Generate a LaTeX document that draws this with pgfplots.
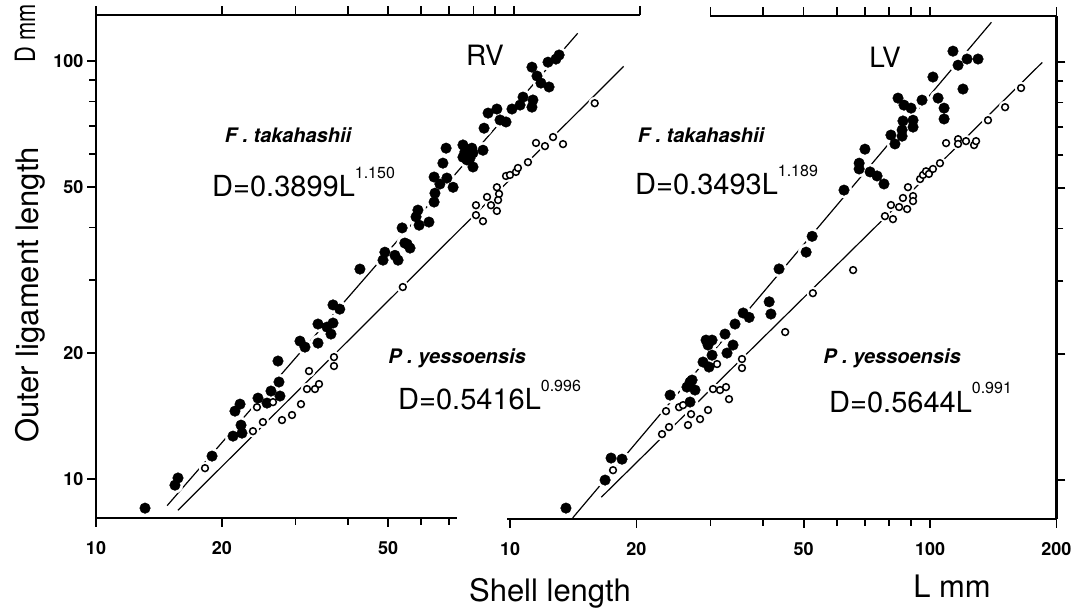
\documentclass[border=0pt]{standalone}
\usepackage{fontspec}
\setmainfont{TeX Gyre Heros}
\usepackage{pgfplots}
\usepackage{pgfplotstable}
\pgfplotsset{compat=1.18}

% RV, F. takahashii (filled)
\pgfplotstableread{
L D
13.1 8.52
15.45 9.67
15.71 10.06
18.95 11.35
21.27 12.67
22.35 12.88
22.23 13.46
21.50 14.54
22.11 15.11
24.41 15.62
25.65 15.20
26.22 16.24
27.55 15.80
27.40 17.07
27.25 19.16
30.76 21.38
31.62 20.69
33.97 23.49
33.97 21.15
35.70 23.10
36.49 22.23
36.90 23.62
36.9 26.1
38.3 25.5
42.8 31.8
48.6 33.4
49.1 34.9
51.9 34.3
52.8 33.4
54.0 39.9
54.8 36.7
56.4 35.7
55.5 36.5
58.9 44.0
58.3 42.4
59.3 40.5
62.6 41.2
64.4 46.0
64.7 48.3
64.4 52.8
66.5 50.8
69.1 52.5
71.5 49.9
67.6 57.0
68.8 61.9
75.5 63.0
76.3 60.6
77.6 59.6
75.5 58.9
77.2 58.0
78.5 58.6
79.3 61.9
79.8 60.3
79.8 55.8
84.3 61.2
84.8 69.1
86.7 75.1
91.0 76.8
92.6 72.3
95.7 71.5
98.9 76.8
103.4 78.5
105.1 82.0
110.4 77.6
111.0 80.7
110.4 96.7
113.5 92.1
116.0 88.6
121.3 86.7
120.6 99.4
126.0 101.1
128.2 103.4
}\rvF

% RV, P. yessoensis (open)
\pgfplotstableread{
L D
18.23 10.62
24.27 14.86
23.74 13.02
25.08 13.69
26.51 15.28
27.86 13.84
29.44 14.23
30.93 15.11
31.97 16.42
32.33 18.13
33.41 16.42
34.16 16.88
37.10 19.58
37.10 18.64
54.2 28.8
81.1 45.2
81.1 42.8
84.3 41.4
86.2 47.3
88.1 45.2
91.0 43.8
91.0 49.9
92.1 48.1
91.6 46.5
95.7 53.1
97.8 53.4
101.1 54.3
102.2 55.5
108.0 57.3
112.9 63.7
118.6 62.6
124.0 65.8
131.0 63.3
156 79.3
}\rvP

% LV, F. takahashii (filled)
\pgfplotstableread{
L D
13.59 8.57
16.84 10.0
17.40 11.29
18.48 11.22
24.05 15.97
26.38 16.69
26.83 17.16
27.13 17.35
27.57 16.42
26.83 15.37
28.81 19.16
29.77 18.64
30.27 19.9
29.29 21.62
30.27 21.62
29.61 21.04
32.5 22.35
32.86 20.13
33.96 21.04
34.33 23.62
35.9 25.1
37.1 24.5
41.4 26.7
41.8 24.96
43.7 32.0
50.7 35.1
52.4 38.3
62.4 49.4
67.8 57.3
67.8 55.5
70.0 61.9
72.0 54.6
74.8 53.4
77.7 51.1
80.7 66.9
82.5 63.7
85.8 68.8
86.2 72.3
85.8 66.5
83.9 82.0
86.7 78.9
90.1 77.6
91.1 72.6
91.1 69.9
95.7 81.1
101.6 92.1
104.5 82.0
108.0 77.6
108.0 73.1
113.4 106.2
116.6 98.3
119.8 86.2
122.5 101.7
130.1 101.7
}\lvF

% LV, P. yessoensis (open)
\pgfplotstableread{
L D
17.59 10.56
23.01 12.88
23.91 13.39
23.52 14.62
25.26 14.94
25.82 15.11
26.53 13.54
26.98 14.38
28.34 13.99
29.61 14.71
30.43 16.51
31.62 16.42
32.68 16.69
33.22 15.62
31.11 18.95
35.67 19.48
35.67 18.54
45.2 22.6
52.6 28.0
65.6 31.8
78.1 42.8
81.6 42.1
80.7 45.5
84.4 45.0
86.2 47.3
88.2 44.5
88.6 50.2
91.1 47.8
91.1 46.5
94.7 52.5
96.2 53.7
97.8 54.8
99.4 54.0
101.6 55.5
105.6 57.3
109.2 64.0
116.6 65.4
116.6 63.7
121.8 64.7
127.3 63.3
128.7 64.7
137.4 72.6
150.9 78.0
164.7 86.7
}\lvP

\begin{document}
\begin{tikzpicture}
\path[use as bounding box] (0pt,0pt) rectangle (1078pt,608pt);

% left panel: left and bottom axis lines
\begin{loglogaxis}[scale only axis, at={(96pt,90pt)}, anchor=south west,
  width=361pt, height=503pt, xmin=10, xmax=73.06, ymin=8.07, ymax=128.9,
  axis x line*=bottom, axis y line*=left,
  tick align=outside, axis line style={line width=2.2pt},
  tick style={line width=1.8pt, black},
  major tick length=9pt, minor tick length=7pt,
  tick label style={font=\fontsize{18}{18}\selectfont\bfseries},
  xticklabel style={yshift=-11pt},
  xtick={10,20,50}, xticklabels={10,20,50}, minor xtick={30,40,60,70},
  ytick={10,20,50,100}, yticklabels={10,20,50,100},
  minor ytick={30,40,60,70,80,90},
]
\addplot[draw=none] coordinates {(10,10)};
\end{loglogaxis}

% left panel: top axis and data (RV)
\begin{loglogaxis}[scale only axis, at={(96pt,90pt)}, anchor=south west,
  width=543.8pt, height=503pt, xmin=10, xmax=200, ymin=8.07, ymax=128.9,
  axis x line*=top, axis y line=none, clip=false,
  tick align=outside, axis line style={line width=2.2pt},
  tick style={line width=1.8pt, black},
  major tick length=9pt, minor tick length=7pt,
  xtick={10,20,30,40,50,60,70,80,90,100,200}, xticklabels={},
  ytick=\empty,
]
\addplot[black, line width=1.2pt, no marks] coordinates {(14.8,8.64) (142,116.5)};
\addplot[black, line width=1.2pt, no marks] coordinates {(15.7,8.42) (183,97.1)};
\addplot[only marks, mark=*, mark size=8pt, white] table {\rvF};
\addplot[only marks, mark=*, mark size=6pt, white] table {\rvP};
\addplot[only marks, mark=*, mark size=5.3pt, black] table {\rvF};
\addplot[only marks, mark=*, mark size=3.4pt, black, mark options={fill=white, line width=1.5pt}] table {\rvP};
\end{loglogaxis}

% right panel: bottom and right axis lines, data (LV)
\begin{loglogaxis}[scale only axis, at={(507.25pt,89pt)}, anchor=south west,
  width=549.2pt, height=503pt, xmin=9.85, xmax=200, ymin=8.07, ymax=128.9,
  axis x line*=bottom, axis y line*=right, clip=false,
  tick align=outside, axis line style={line width=2.2pt},
  tick style={line width=1.8pt, black},
  major tick length=9pt, minor tick length=7pt,
  tick label style={font=\fontsize{18}{18}\selectfont\bfseries},
  xticklabel style={yshift=-11pt},
  xtick={10,20,50,100,200}, xticklabels={10,20,50,100,200},
  minor xtick={30,40,60,70,80,90},
  ytick={10,20,50,100}, yticklabels={},
  minor ytick={30,40,60,70,80,90},
]
\addplot[black, line width=1.2pt, no marks] coordinates {(14.1,8.12) (140,124.5)};
\addplot[black, line width=1.2pt, no marks] coordinates {(16.5,9.1) (185,99.8)};
\addplot[only marks, mark=*, mark size=8pt, white] table {\lvF};
\addplot[only marks, mark=*, mark size=6pt, white] table {\lvP};
\addplot[only marks, mark=*, mark size=5.3pt, black] table {\lvF};
\addplot[only marks, mark=*, mark size=3.4pt, black, mark options={fill=white, line width=1.5pt}] table {\lvP};
\end{loglogaxis}

% right panel: top axis
\begin{loglogaxis}[scale only axis, at={(710.4pt,89pt)}, anchor=south west,
  width=346pt, height=503pt, xmin=30, xmax=200, ymin=8.07, ymax=128.9,
  axis x line*=top, axis y line=none,
  tick align=outside, axis line style={line width=2.2pt},
  tick style={line width=1.8pt, black},
  major tick length=9pt, minor tick length=7pt,
  xtick={30,40,50,60,70,80,90,100,200}, xticklabels={},
  ytick=\empty,
]
\addplot[draw=none] coordinates {(100,10)};
\end{loglogaxis}

% titles
\node[rotate=90, font=\fontsize{31}{31}\selectfont] at (30pt,313pt) {Outer ligament length};
\node[rotate=90, font=\fontsize{28}{28}\selectfont] at (25pt,575pt) {\scalebox{0.78}[1]{D mm}};
\node[font=\fontsize{31}{31}\selectfont] at (550pt,15pt) {Shell length};
\node[font=\fontsize{31}{31}\selectfont] at (952pt,22pt) {L mm};
\node[font=\fontsize{28}{28}\selectfont] at (485pt,553pt) {RV};
\node[font=\fontsize{28}{28}\selectfont] at (885pt,551pt) {LV};

% species names
\node[anchor=base, font=\fontsize{20}{20}\selectfont\bfseries\itshape] at (288pt,465pt) {F . takahashii};
\node[anchor=base, font=\fontsize{20}{20}\selectfont\bfseries\itshape] at (457pt,244pt) {P . yessoensis};
\node[anchor=base, font=\fontsize{20}{20}\selectfont\bfseries\itshape] at (701pt,465pt) {F . takahashii};
\node[anchor=base, font=\fontsize{20}{20}\selectfont\bfseries\itshape] at (892pt,244pt) {P . yessoensis};

% equations
\node[anchor=base west, inner sep=0pt, font=\fontsize{29}{29}\selectfont] at (212pt,411pt) {D=0.3899L\raisebox{18pt}{\fontsize{16}{16}\selectfont 1.150}};
\node[anchor=base west, inner sep=0pt, font=\fontsize{29}{29}\selectfont] at (398pt,198pt) {D=0.5416L\raisebox{18pt}{\fontsize{16}{16}\selectfont 0.996}};
\node[anchor=base west, inner sep=0pt, font=\fontsize{29}{29}\selectfont] at (635pt,413pt) {D=0.3493L\raisebox{18pt}{\fontsize{16}{16}\selectfont 1.189}};
\node[anchor=base west, inner sep=0pt, font=\fontsize{29}{29}\selectfont] at (829pt,196pt) {D=0.5644L\raisebox{18pt}{\fontsize{16}{16}\selectfont 0.991}};
\end{tikzpicture}
\end{document}
